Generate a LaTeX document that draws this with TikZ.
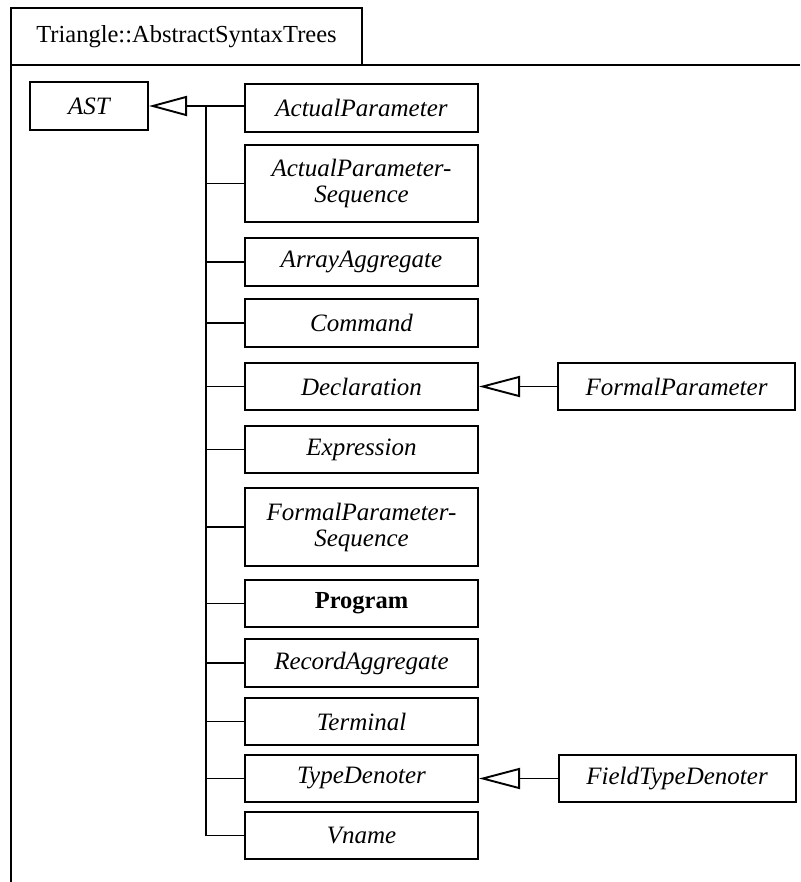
\documentclass[tikz,border=0pt]{standalone}
\usepackage{fontspec}
\setmainfont{Liberation Serif}
\usetikzlibrary{arrows.meta}
\tikzset{
  frameline/.style={line width=2pt},
  cls/.style={draw, line width=2pt, inner sep=0pt, minimum width=233pt, minimum height=47pt,
    align=center, font=\fontsize{25}{26}\selectfont\itshape},
  twoline/.style={minimum height=77pt},
  sub/.style={cls, minimum width=237pt},
  conn/.style={line width=1.9pt},
  gen/.style={line width=1.9pt, -{Triangle[open, length=38pt, width=20pt, line width=1.9pt]}},
}
\begin{document}
\begin{tikzpicture}[x=1pt, y=-1pt]
\useasboundingbox (0,0) rectangle (800,882);
% package frame
\draw[frameline] (11,65) -- (11,8) -- (362,8) -- (362,65);
\draw[frameline] (11,882) -- (11,65) -- (800,65);
\node[font=\fontsize{24.5}{26}\selectfont] (title) at (186.5,37) {Triangle::AbstractSyntaxTrees};
% classes
\node[cls, minimum width=118pt, minimum height=48pt] (ast) at (89,106) {AST};
\node[cls, minimum height=48pt] (ap) at (361.5,108) {ActualParameter};
\node[cls, twoline] (aps) at (361.5,183.5) {ActualParameter-\\Sequence};
\node[cls, minimum height=48pt] (aa) at (361.5,262) {ArrayAggregate};
\node[cls, minimum height=48pt] (cmd) at (361.5,323) {Command};
\node[cls] (decl) at (361.5,386.5) {Declaration};
\node[cls] (expr) at (361.5,449.5) {Expression};
\node[cls, twoline, minimum height=78pt] (fps) at (361.5,527) {FormalParameter-\\Sequence};
\node[cls, font=\fontsize{24.5}{26}\selectfont\bfseries] (prog) at (361.5,603.5) {Program};
\node[cls, minimum height=48pt] (ra) at (361.5,663) {RecordAggregate};
\node[cls] (term) at (361.5,721.5) {Terminal};
\node[cls] (td) at (361.5,778.5) {TypeDenoter};
\node[cls] (vn) at (361.5,835.5) {Vname};
\node[sub] (fp) at (676.5,386.5) {FormalParameter};
\node[sub] (ftd) at (677,778.5) {FieldTypeDenoter};
% generalisation to AST
\coordinate (trunk) at (206,106);
\draw[gen] (ap.west |- ast.east) -- (ast.east);
\draw[conn] (trunk) -- (trunk |- vn.west) -- (vn.west);
\foreach \c in {aps,aa,cmd,decl,expr,fps,prog,ra,term,td}
  \draw[conn] (trunk |- \c.west) -- (\c.west);
% other generalisations
\draw[gen, -{Triangle[open, length=41pt, width=21pt, line width=1.9pt]}] (fp.west) -- (decl.east);
\draw[gen, -{Triangle[open, length=41pt, width=21pt, line width=1.9pt]}] (ftd.west |- td.east) -- (td.east);
\end{tikzpicture}
\end{document}
